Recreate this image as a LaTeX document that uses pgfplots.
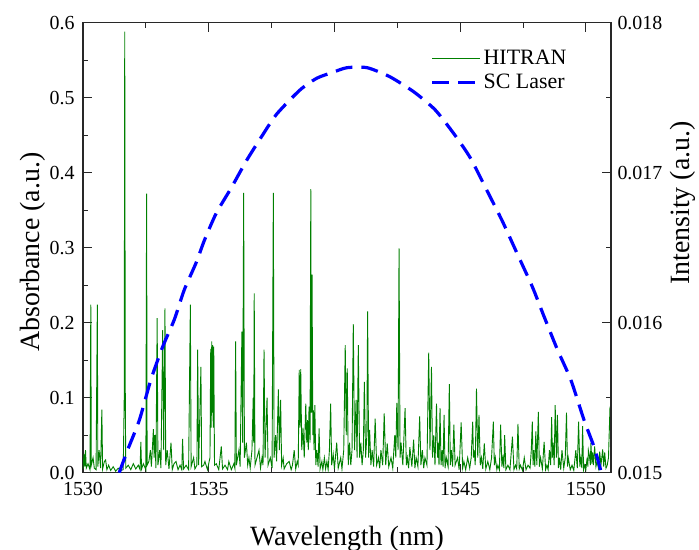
\documentclass[border=0pt]{standalone}
\usepackage{fontspec}
\setmainfont{Liberation Serif}
\usepackage{pgfplots}
\usepackage{pgfplotstable}
\pgfplotsset{compat=1.18}
\definecolor{hgreen}{RGB}{0,128,0}
\definecolor{sblue}{RGB}{0,0,255}
\definecolor{axgray}{RGB}{40,40,40}
\pgfplotstableread{
x y
1530.000 0.005
1530.040 0.025
1530.070 0.008
1530.100 0.030
1530.130 0.006
1530.200 0.012
1530.280 0.004
1530.310 0.224
1530.330 0.010
1530.400 0.020
1530.450 0.006
1530.520 0.004
1530.570 0.224
1530.590 0.008
1530.640 0.030
1530.700 0.006
1530.750 0.084
1530.780 0.005
1530.850 0.015
1530.900 0.017
1530.950 0.004
1531.020 0.010
1531.100 0.003
1531.200 0.008
1531.300 0.002
1531.400 0.006
1531.500 0.003
1531.600 0.004
1531.640 0.100
1531.660 0.588
1531.680 0.120
1531.700 0.006
1531.800 0.010
1531.900 0.004
1532.000 0.012
1532.100 0.005
1532.200 0.010
1532.270 0.004
1532.300 0.041
1532.330 0.005
1532.400 0.012
1532.500 0.004
1532.530 0.372
1532.550 0.010
1532.620 0.015
1532.680 0.030
1532.720 0.008
1532.800 0.058
1532.830 0.020
1532.860 0.050
1532.900 0.006
1532.950 0.206
1532.980 0.010
1533.050 0.030
1533.100 0.006
1533.170 0.190
1533.210 0.030
1533.260 0.219
1533.290 0.010
1533.350 0.030
1533.420 0.005
1533.500 0.040
1533.550 0.004
1533.620 0.012
1533.700 0.015
1533.780 0.004
1533.860 0.010
1533.930 0.004
1533.960 0.045
1534.000 0.005
1534.100 0.010
1534.200 0.004
1534.270 0.224
1534.300 0.008
1534.400 0.020
1534.450 0.005
1534.530 0.010
1534.560 0.164
1534.600 0.010
1534.690 0.141
1534.720 0.008
1534.800 0.010
1534.850 0.015
1534.950 0.004
1535.050 0.020
1535.080 0.165
1535.100 0.060
1535.120 0.175
1535.140 0.080
1535.160 0.170
1535.180 0.060
1535.200 0.168
1535.230 0.010
1535.300 0.012
1535.400 0.004
1535.500 0.035
1535.550 0.005
1535.650 0.010
1535.750 0.004
1535.800 0.015
1535.900 0.004
1536.000 0.012
1536.040 0.006
1536.070 0.175
1536.100 0.010
1536.200 0.030
1536.250 0.008
1536.320 0.188
1536.350 0.040
1536.390 0.373
1536.420 0.020
1536.500 0.040
1536.550 0.010
1536.600 0.020
1536.650 0.006
1536.720 0.030
1536.770 0.100
1536.790 0.040
1536.810 0.239
1536.840 0.010
1536.920 0.020
1537.000 0.030
1537.060 0.006
1537.120 0.020
1537.160 0.010
1537.200 0.164
1537.240 0.020
1537.320 0.100
1537.360 0.010
1537.450 0.020
1537.520 0.006
1537.570 0.373
1537.600 0.020
1537.660 0.050
1537.700 0.015
1537.770 0.111
1537.810 0.030
1537.860 0.097
1537.900 0.010
1537.960 0.020
1538.000 0.005
1538.100 0.012
1538.200 0.015
1538.280 0.004
1538.330 0.010
1538.400 0.030
1538.460 0.005
1538.520 0.015
1538.560 0.010
1538.600 0.137
1538.630 0.060
1538.660 0.138
1538.700 0.030
1538.750 0.060
1538.800 0.020
1538.860 0.092
1538.900 0.040
1538.930 0.070
1538.960 0.030
1538.990 0.088
1539.030 0.040
1539.060 0.378
1539.085 0.080
1539.110 0.264
1539.140 0.050
1539.160 0.083
1539.190 0.030
1539.220 0.090
1539.260 0.010
1539.300 0.030
1539.350 0.008
1539.390 0.059
1539.430 0.005
1539.500 0.015
1539.540 0.004
1539.600 0.020
1539.650 0.005
1539.700 0.015
1539.750 0.004
1539.800 0.030
1539.850 0.092
1539.890 0.010
1539.950 0.025
1540.000 0.005
1540.090 0.040
1540.150 0.006
1540.250 0.020
1540.300 0.005
1540.370 0.030
1540.430 0.170
1540.470 0.050
1540.510 0.139
1540.550 0.010
1540.600 0.040
1540.650 0.010
1540.700 0.030
1540.750 0.198
1540.800 0.030
1540.860 0.097
1540.900 0.020
1540.950 0.170
1541.000 0.020
1541.050 0.040
1541.100 0.010
1541.150 0.030
1541.190 0.121
1541.240 0.020
1541.290 0.050
1541.320 0.215
1541.360 0.020
1541.400 0.057
1541.450 0.010
1541.500 0.030
1541.560 0.008
1541.620 0.072
1541.680 0.010
1541.750 0.020
1541.800 0.006
1541.850 0.030
1541.920 0.010
1541.980 0.079
1542.040 0.010
1542.100 0.039
1542.160 0.008
1542.250 0.020
1542.320 0.006
1542.400 0.050
1542.440 0.020
1542.480 0.093
1542.530 0.030
1542.570 0.299
1542.610 0.020
1542.650 0.040
1542.720 0.010
1542.810 0.086
1542.860 0.010
1542.900 0.020
1542.950 0.006
1543.000 0.034
1543.080 0.008
1543.150 0.044
1543.200 0.006
1543.250 0.020
1543.320 0.008
1543.390 0.075
1543.440 0.010
1543.500 0.030
1543.550 0.006
1543.600 0.020
1543.680 0.010
1543.750 0.160
1543.800 0.030
1543.860 0.141
1543.900 0.020
1543.950 0.050
1544.000 0.010
1544.060 0.092
1544.100 0.020
1544.120 0.040
1544.160 0.010
1544.200 0.086
1544.240 0.010
1544.280 0.030
1544.320 0.008
1544.360 0.077
1544.400 0.006
1544.450 0.020
1544.520 0.008
1544.570 0.118
1544.610 0.010
1544.650 0.030
1544.700 0.008
1544.750 0.064
1544.800 0.010
1544.900 0.020
1544.960 0.004
1545.040 0.067
1545.100 0.006
1545.150 0.015
1545.220 0.004
1545.300 0.020
1545.380 0.006
1545.440 0.020
1545.500 0.068
1545.530 0.020
1545.560 0.030
1545.600 0.010
1545.650 0.112
1545.700 0.020
1545.750 0.077
1545.800 0.010
1545.850 0.020
1545.900 0.005
1545.960 0.039
1546.020 0.005
1546.100 0.015
1546.180 0.004
1546.250 0.020
1546.320 0.068
1546.360 0.010
1546.400 0.020
1546.460 0.004
1546.500 0.010
1546.560 0.004
1546.610 0.064
1546.660 0.008
1546.700 0.020
1546.740 0.006
1546.770 0.050
1546.820 0.004
1546.900 0.010
1546.980 0.004
1547.080 0.048
1547.140 0.004
1547.200 0.010
1547.250 0.005
1547.300 0.065
1547.350 0.005
1547.400 0.010
1547.480 0.003
1547.550 0.020
1547.620 0.004
1547.700 0.010
1547.780 0.006
1547.830 0.030
1547.870 0.068
1547.900 0.010
1547.930 0.030
1547.970 0.008
1548.010 0.055
1548.050 0.010
1548.110 0.081
1548.150 0.008
1548.200 0.020
1548.270 0.005
1548.340 0.041
1548.400 0.004
1548.450 0.010
1548.500 0.004
1548.550 0.030
1548.600 0.010
1548.640 0.074
1548.670 0.020
1548.700 0.040
1548.740 0.010
1548.780 0.090
1548.830 0.020
1548.870 0.077
1548.910 0.006
1548.950 0.020
1549.000 0.004
1549.050 0.030
1549.120 0.006
1549.180 0.020
1549.230 0.080
1549.270 0.008
1549.300 0.020
1549.380 0.004
1549.450 0.010
1549.520 0.003
1549.600 0.030
1549.660 0.006
1549.710 0.068
1549.760 0.008
1549.800 0.020
1549.840 0.006
1549.870 0.062
1549.910 0.004
1549.950 0.010
1550.000 0.004
1550.050 0.020
1550.080 0.008
1550.100 0.030
1550.140 0.023
1550.180 0.010
1550.200 0.040
1550.240 0.012
1550.270 0.027
1550.300 0.010
1550.350 0.035
1550.400 0.008
1550.450 0.015
1550.500 0.006
1550.550 0.028
1550.600 0.010
1550.670 0.031
1550.710 0.008
1550.750 0.027
1550.800 0.006
1550.850 0.010
1550.900 0.020
1550.960 0.088
1551.000 0.060
}\hitran
\pgfplotstableread{
x y
1531.44 0.01500
1531.77 0.01515
1532.24 0.01535
1532.70 0.01562
1533.17 0.01584
1533.63 0.01602
1534.03 0.01622
1534.50 0.01640
1534.83 0.01655
1535.30 0.01673
1535.90 0.01690
1536.50 0.01708
1537.10 0.01724
1537.70 0.01739
1538.62 0.01755
1539.30 0.01763
1539.95 0.01767
1540.50 0.01770
1541.30 0.01770
1542.20 0.01764
1543.15 0.01754
1544.00 0.01742
1544.75 0.01726
1545.40 0.01710
1546.07 0.01688
1546.67 0.01668
1547.27 0.01646
1547.87 0.01624
1548.34 0.01604
1548.87 0.01582
1549.40 0.01562
1549.93 0.01535
1550.33 0.01517
1550.60 0.01501
}\sclaser
\begin{document}
\begin{tikzpicture}
\useasboundingbox (-83bp,-77.3bp) rectangle (616bp,472.7bp);
\pgfplotsset{
 common/.style={width=528bp,height=450bp,scale only axis,
  at={(0,0)},anchor=south west,xmin=1530,xmax=1551,
  axis line style={axgray,line width=1.1bp},
  every tick/.style={axgray,line width=1bp},
  major tick length=9bp,minor tick length=5.5bp,tick align=inside,
  /pgf/number format/assume math mode=true,
  tick label style={font=\fontsize{20}{23}\selectfont},
  label style={font=\fontsize{28}{33}\selectfont}}
}
\begin{axis}[common,ymin=0,ymax=0.6,
  xtick={1530,1535,1540,1545,1550},minor x tick num=1,
  ytick={0,0.1,0.2,0.3,0.4,0.5,0.6},minor y tick num=1,
  xtick pos=both,ytick pos=left,
  yticklabel style={/pgf/number format/fixed,/pgf/number format/fixed zerofill,/pgf/number format/precision=1,xshift=-5bp},
  xticklabel style={/pgf/number format/set thousands separator={},yshift=-6bp},
  xlabel={Wavelength (nm)},ylabel={Absorbance (a.u.)},
  xlabel style={at={(axis description cs:0.5,-0.1607)},anchor=base},
  ylabel style={at={(axis description cs:-0.0833,0.49)},anchor=base}]
\addplot[hgreen,line width=0.9bp] table[x=x,y=y]{\hitran};
\end{axis}
\begin{axis}[common,ymin=0.015,ymax=0.018,
  axis x line=none,axis y line*=right,scaled y ticks=false,
  ytick={0.015,0.016,0.017,0.018},minor y tick num=1,
  yticklabel style={/pgf/number format/fixed,/pgf/number format/fixed zerofill,/pgf/number format/precision=3,xshift=3bp},
  ylabel={Intensity (a.u.)},
  ylabel style={at={(axis description cs:1.1496,0.599)},anchor=base},
  legend style={draw=none,fill=none,at={(axis description cs:0.652,0.948)},anchor=north west,
    font=\fontsize{22}{26}\selectfont,row sep=4bp},
  legend cell align=left,
  legend image code/.code={\draw[#1] (0bp,0bp) -- (48bp,0bp);}]
\addlegendimage{hgreen,line width=0.9bp}
\addlegendentry{HITRAN}
\addplot[sblue,line width=3.2bp,dash pattern=on 17bp off 9bp,smooth,tension=0.4] table[x=x,y=y]{\sclaser};
\addlegendentry{SC Laser}
\end{axis}
\end{tikzpicture}
\end{document}
